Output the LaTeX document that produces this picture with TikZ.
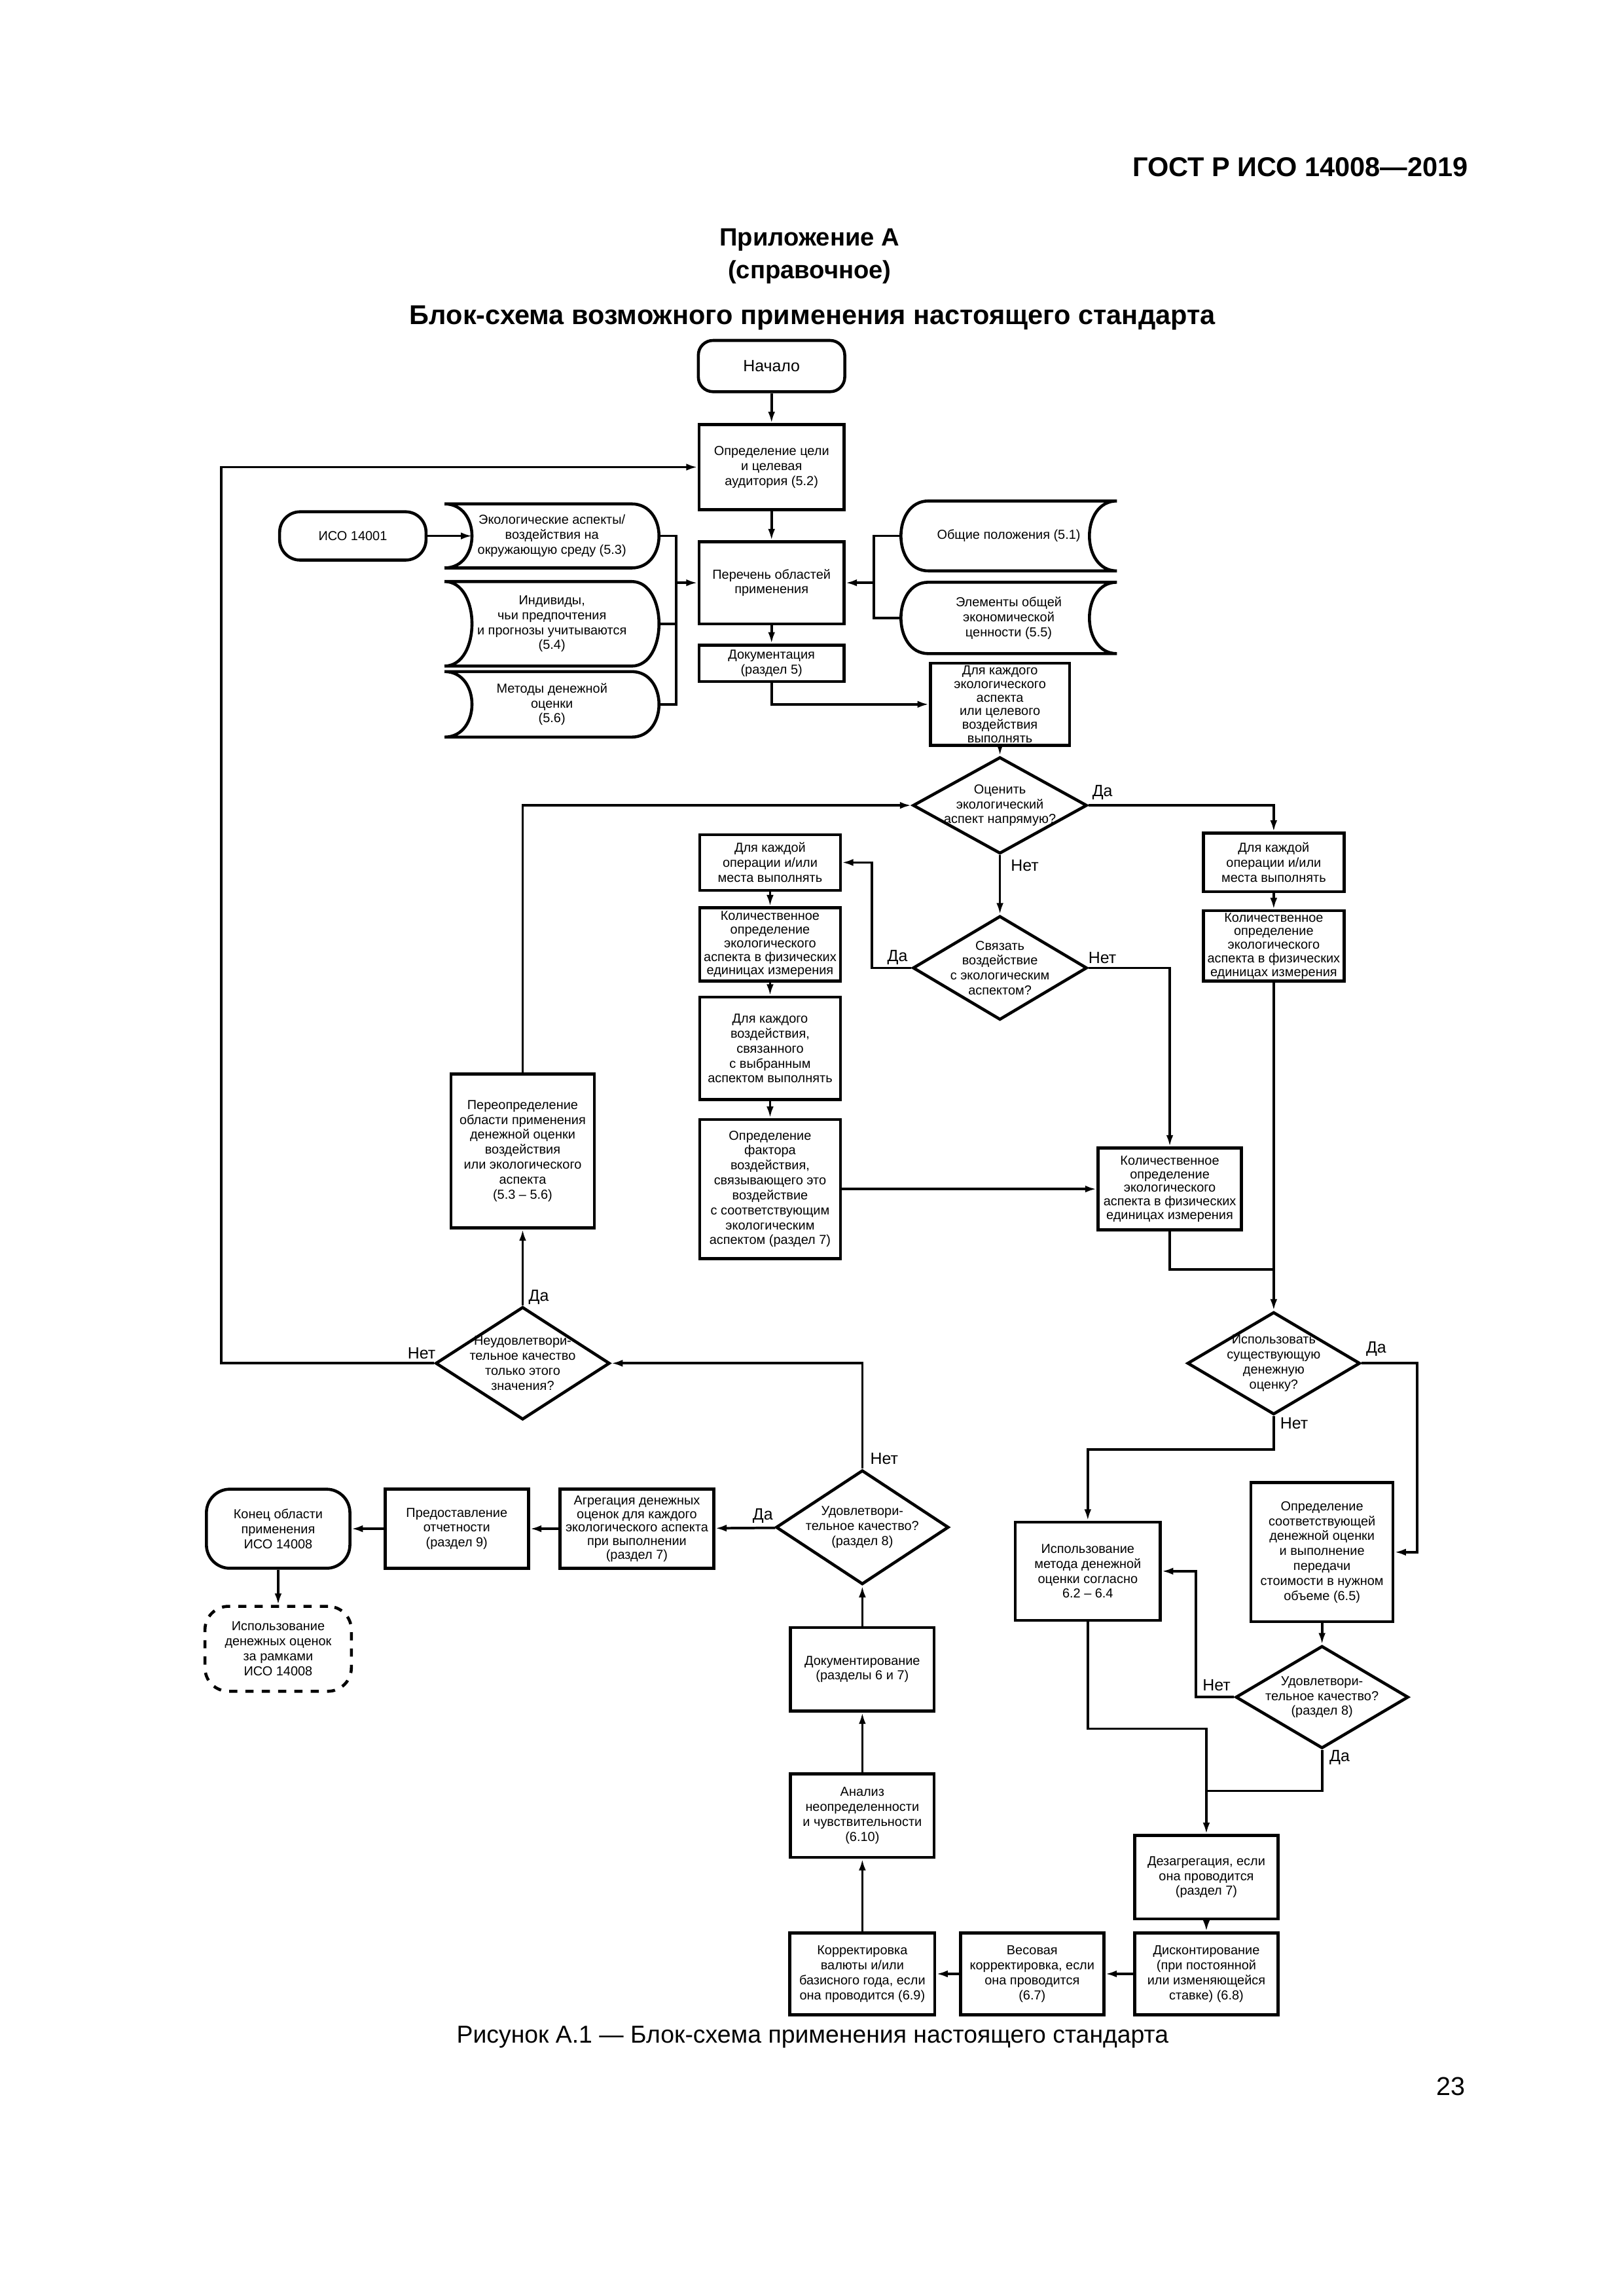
\documentclass[tikz,border=0pt]{standalone}
\usepackage{fontspec}
\setmainfont{Liberation Sans}
\usepackage{tikz}
\usetikzlibrary{shapes.geometric,arrows.meta}

%% one pixel of the page grid
\newcommand{\spx}{0.018936cm}
%% stored data shapes drawn round a named text node
\newcommand{\storeLeft}[1]{%
  \draw[line width=1.1pt] (#1.north west) .. controls +(25,0) and +(25,0) .. (#1.south west)
    -- ([xshift=-19*\spx]#1.south east) .. controls +(25,0) and +(25,0) .. ([xshift=-19*\spx]#1.north east) -- cycle;}
\newcommand{\storeRight}[1]{%
  \draw[line width=1.1pt] ([xshift=19*\spx]#1.north west) .. controls +(-25,0) and +(-25,0) .. ([xshift=19*\spx]#1.south west)
    -- (#1.south east) .. controls +(-25,0) and +(-25,0) .. (#1.north east) -- cycle;}

\begin{document}
\begin{tikzpicture}
		[x=0.018936cm,y=-0.018936cm,
		boxSize/.style 2 args={minimum width=#1*\spx,minimum height=#2*\spx},
		boxDecorate/.style={shape=rectangle,draw,line width=1.1pt,inner sep=0pt,align=center,font=\fontsize{4.8}{5.5}\selectfont},
		tightDecorate/.style={boxDecorate,font=\fontsize{4.8}{5}\selectfont},
		termDecorate/.style={boxDecorate,rounded corners=10*\spx},
		dataDecorate/.style={shape=rectangle,inner sep=0pt,align=center,font=\fontsize{4.8}{5.5}\selectfont},
		decisionDecorate/.style={shape=diamond,draw,line width=1.1pt,inner sep=0pt},
		decisionText/.style={align=center,inner sep=0pt,font=\fontsize{4.8}{5.5}\selectfont},
		lineDecorate/.style={line width=0.9pt},
		arrowDecorate/.style={lineDecorate,-{Latex[length=4.2pt,width=2.6pt]}},
		labelDecorate/.style={inner sep=0pt,font=\fontsize{6}{7}\selectfont}]
		\useasboundingbox (0,0) rectangle (1109,1568);
		%% page texts
		\node[anchor=east,inner sep=0pt,font=\fontsize{10}{12}\selectfont\bfseries] (gost) at (1003,114) {ГОСТ Р ИСО 14008—2019};
		\node[font=\fontsize{9.2}{11}\selectfont\bfseries] (annex) at (553,164) {Приложение А};
		\node[font=\fontsize{9.2}{11}\selectfont\bfseries] (annexkind) at (553,186) {(справочное)};
		\node[font=\fontsize{10}{12}\selectfont\bfseries] (title) at (555,217) {Блок-схема возможного применения настоящего стандарта};
		\node[font=\fontsize{9}{11}\selectfont] (caption) at (555,1391) {Рисунок А.1 — Блок-схема применения настоящего стандарта};
		\node[font=\fontsize{9.5}{11}\selectfont] (pagenum) at (991,1425) {23};
		%% upper part
		\node[termDecorate,boxSize={100}{35},font=\fontsize{6}{7}\selectfont] (start) at (527,250) {Начало};
		\node[boxDecorate,boxSize={99}{58}] (goal) at (527,319) {Определение цели\\и целевая\\аудитория (5.2)};
		\node[boxDecorate,boxSize={99}{56}] (scope) at (527,398) {Перечень областей\\применения};
		\node[boxDecorate,boxSize={99}{25}] (doc5) at (527,453) {Документация\\(раздел 5)};
		\node[tightDecorate,boxSize={95}{56}] (each) at (683,481) {Для каждого\\экологического\\аспекта\\или целевого\\воздействия\\выполнять};
		\node[termDecorate,rounded corners=14*\spx,boxSize={100}{33}] (iso) at (241,366) {ИСО 14001};
		\node[dataDecorate,boxSize={146}{43}] (aspects) at (377,366) {Экологические аспекты/\\воздействия на\\окружающую среду (5.3)};
		\node[dataDecorate,boxSize={146}{57}] (indiv) at (377,426) {Индивиды,\\чьи предпочтения\\и прогнозы учитываются\\(5.4)};
		\node[dataDecorate,boxSize={146}{44}] (methods) at (377,481) {Методы денежной\\оценки\\(5.6)};
		\node[dataDecorate,boxSize={147}{47}] (general) at (689,366) {Общие положения (5.1)};
		\node[dataDecorate,boxSize={147}{48}] (elements) at (689,422) {Элементы общей\\экономической\\ценности (5.5)};
		\foreach \nodename in {aspects, indiv, methods}
			\storeLeft{\nodename};
		\foreach \nodename in {general, elements}
			\storeRight{\nodename};
		\coordinate (busL) at (462,398);
		\coordinate (busR) at (597,398);
		%% decisions and the middle part
		\node[decisionDecorate,boxSize={119}{66},label={[decisionText]center:Оценить\\экологический\\аспект напрямую?}] (dec1) at (683,550) {};
		\node[decisionDecorate,boxSize={119}{71},label={[decisionText]center:Связать\\воздействие\\с экологическим\\аспектом?}] (dec2) at (683,661) {};
		\node[boxDecorate,boxSize={96}{40}] (opRight) at (870,589) {Для каждой\\операции и/или\\места выполнять};
		\node[tightDecorate,boxSize={96}{48}] (qtyRight) at (870,646) {Количественное\\определение\\экологического\\аспекта в физических\\единицах измерения};
		\node[boxDecorate,boxSize={96}{38}] (opLeft) at (526,589) {Для каждой\\операции и/или\\места выполнять};
		\node[tightDecorate,boxSize={96}{50}] (qtyLeft) at (526,645) {Количественное\\определение\\экологического\\аспекта в физических\\единицах измерения};
		\node[boxDecorate,boxSize={96}{70}] (eachImpact) at (526,716) {Для каждого\\воздействия,\\связанного\\с выбранным\\аспектом выполнять};
		\node[boxDecorate,boxSize={96}{95}] (factor) at (526,812) {Определение\\фактора\\воздействия,\\связывающего это\\воздействие\\с соответствующим\\экологическим\\аспектом (раздел 7)};
		\node[tightDecorate,boxSize={98}{56}] (qty2) at (799,812) {Количественное\\определение\\экологического\\аспекта в физических\\единицах измерения};
		\node[boxDecorate,boxSize={98}{105}] (redefine) at (357,786) {Переопределение\\области применения\\денежной оценки\\воздействия\\или экологического\\аспекта\\(5.3 – 5.6)};
		\node[decisionDecorate,boxSize={119}{77},label={[decisionText]center:Неудовлетвори-\\тельное качество\\только этого\\значения?}] (dec3) at (357,931) {};
		\coordinate (loopL) at (151,319);
		\coordinate (joinA) at (870,867);
		%% lower right part
		\node[decisionDecorate,boxSize={118}{70},label={[decisionText]center:Использовать\\существующую\\денежную\\оценку?}] (dec4) at (870,931) {};
		\node[boxDecorate,boxSize={99}{67}] (useMethod) at (743,1073) {Использование\\метода денежной\\оценки согласно\\6.2 – 6.4};
		\node[boxDecorate,boxSize={97}{95}] (transfer) at (903,1060) {Определение\\соответствующей\\денежной оценки\\и выполнение\\передачи\\стоимости в нужном\\объеме (6.5)};
		\node[decisionDecorate,boxSize={118}{70},label={[decisionText]center:Удовлетвори-\\тельное качество?\\(раздел 8)}] (dec6) at (903,1159) {};
		\node[boxDecorate,boxSize={98}{57}] (disagg) at (824,1282) {Дезагрегация, если\\она проводится\\(раздел 7)};
		\node[boxDecorate,boxSize={98}{56}] (discount) at (824,1348) {Дисконтирование\\(при постоянной\\или изменяющейся\\ставке) (6.8)};
		\node[boxDecorate,boxSize={98}{56}] (weight) at (705,1348) {Весовая\\корректировка, если\\она проводится\\(6.7)};
		\node[boxDecorate,boxSize={99}{56}] (corrCur) at (589,1348) {Корректировка\\валюты и/или\\базисного года, если\\она проводится (6.9)};
		\coordinate (joinB) at (824,1223);
		%% lower left part
		\node[boxDecorate,boxSize={98}{57}] (uncert) at (589,1240) {Анализ\\неопределенности\\и чувствительности\\(6.10)};
		\node[boxDecorate,boxSize={98}{57}] (docs67) at (589,1140) {Документирование\\(разделы 6 и 7)};
		\node[decisionDecorate,boxSize={118}{78},label={[decisionText]center:Удовлетвори-\\тельное качество?\\(раздел 8)}] (dec5) at (589,1043) {};
		\node[tightDecorate,boxSize={105}{54}] (agg) at (435,1044) {Агрегация денежных\\оценок для каждого\\экологического аспекта\\при выполнении\\(раздел 7)};
		\node[boxDecorate,boxSize={98}{54}] (report) at (312,1044) {Предоставление\\отчетности\\(раздел 9)};
		\node[termDecorate,rounded corners=16*\spx,boxSize={98}{54}] (endS) at (190,1044) {Конец области\\применения\\ИСО 14008};
		\node[termDecorate,rounded corners=16*\spx,dashed,boxSize={100}{58}] (beyond) at (190,1126) {Использование\\денежных оценок\\за рамками\\ИСО 14008};
		%% yes and no
		\node[labelDecorate] (yes1) at (753,541) {Да};
		\node[labelDecorate] (no1) at (700,591) {Нет};
		\node[labelDecorate] (yes2) at (613,654) {Да};
		\node[labelDecorate] (no2) at (753,654) {Нет};
		\node[labelDecorate] (yes3) at (368,886) {Да};
		\node[labelDecorate] (no3) at (288,924) {Нет};
		\node[labelDecorate] (yes4) at (940,921) {Да};
		\node[labelDecorate] (no4) at (884,972) {Нет};
		\node[labelDecorate] (no5) at (604,996) {Нет};
		\node[labelDecorate] (yes5) at (521,1035) {Да};
		\node[labelDecorate] (no6) at (831,1151) {Нет};
		\node[labelDecorate] (yes6) at (915,1200) {Да};
		%% straight arrows
		\path
		\foreach \startnode/\endnode in {start/goal, goal/scope, scope/doc5, each/dec1, dec1/dec2,
			opRight/qtyRight, qtyRight/dec4, opLeft/qtyLeft, qtyLeft/eachImpact, eachImpact/factor,
			factor/qty2, dec3/redefine, dec5/agg, agg/report, report/endS, endS/beyond,
			docs67/dec5, uncert/docs67, corrCur/uncert, disagg/discount, discount/weight,
			weight/corrCur, transfer/dec6}
		{
			(\startnode) edge[arrowDecorate] (\endnode)
		};
		%% bent connectors
		\draw[arrowDecorate] (iso) -- ([xshift=19*\spx]aspects.west);
		\draw[lineDecorate] (aspects.east) -| (busL) |- (methods.east);
		\draw[lineDecorate] (indiv.east) -- (indiv.east -| busL);
		\draw[arrowDecorate] (busL) -- (scope.west);
		\draw[lineDecorate] (general.west) -| (busR) |- (elements.west);
		\draw[arrowDecorate] (busR) -- (scope.east);
		\draw[arrowDecorate] (doc5.south) |- (each.west);
		\draw[arrowDecorate] (dec1.east) -| (opRight.north);
		\draw[arrowDecorate] (dec2.west) -- ++(-27,0) |- (opLeft.east);
		\draw[arrowDecorate] (dec2.east) -| (qty2.north);
		\draw[lineDecorate] (qty2.south) |- (joinA);
		\draw[arrowDecorate] (redefine.north) |- (dec1.west);
		\draw[arrowDecorate] (dec3.west) -| (loopL) |- (goal.west);
		\draw[arrowDecorate] (dec5.north) |- (dec3.east);
		\draw[arrowDecorate] (dec4.east) -- ++(38,0) |- (transfer.east);
		\draw[arrowDecorate] (dec4.south) -- ++(0,23) -| (useMethod.north);
		\draw[arrowDecorate] (dec6.west) -- ++(-26,0) |- (useMethod.east);
		\draw[arrowDecorate] (useMethod.south) -- ++(0,73) -| (disagg.north);
		\draw[lineDecorate] (dec6.south) |- (joinB);
	\end{tikzpicture}
\end{document}
